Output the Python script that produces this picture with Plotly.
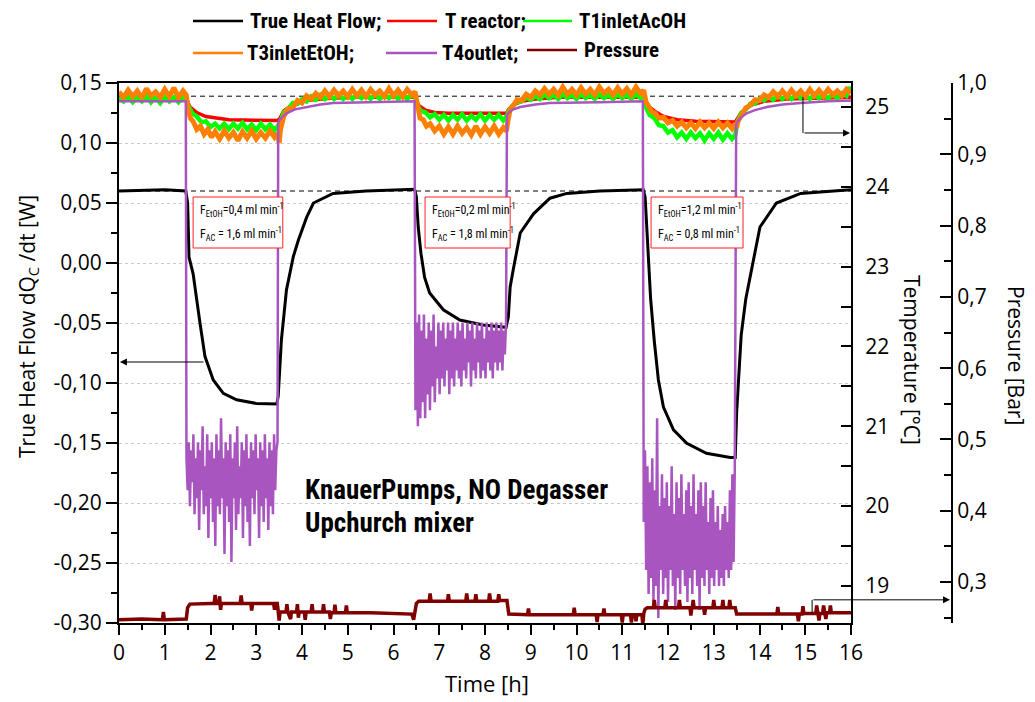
import numpy as np
import plotly.graph_objects as go

# ---------------- data ----------------
time_ticks = list(range(0, 17))
heat_ticks = [-0.30, -0.25, -0.20, -0.15, -0.10, -0.05, 0.00, 0.05, 0.10, 0.15]
heat_tick_labels = ["-0,30", "-0,25", "-0,20", "-0,15", "-0,10", "-0,05", "0,00", "0,05", "0,10", "0,15"]
temp_ticks = [19, 20, 21, 22, 23, 24, 25]
pressure_ticks = [0.3, 0.4, 0.5, 0.6, 0.7, 0.8, 0.9, 1.0]

# True heat flow [W]  (time h, value)
heat_flow = [
    (0, 0.060), (1.0, 0.061), (1.46, 0.060), (1.5, 0.050), (1.53, 0.005), (1.62, -0.009),
    (1.77, -0.050), (1.88, -0.078), (2.06, -0.0975), (2.28, -0.1086), (2.57, -0.114),
    (3.0, -0.117), (3.45, -0.1175), (3.48, -0.111), (3.55, -0.064), (3.66, -0.0225),
    (3.81, 0.0053), (3.92, 0.019), (4.1, 0.038), (4.25, 0.050), (4.68, 0.058), (5.4, 0.060),
    (6.46, 0.0615), (6.5, 0.055), (6.54, 0.030), (6.6, 0.008), (6.68, -0.012), (6.79, -0.025),
    (7.09, -0.039), (7.45, -0.0475), (7.96, -0.0517), (8.46, -0.0536), (8.51, -0.045),
    (8.55, -0.020), (8.62, -0.005), (8.7, 0.012), (8.77, 0.025), (9.06, 0.041), (9.42, 0.054),
    (9.79, 0.058), (10.51, 0.060), (11.46, 0.061), (11.5, 0.055), (11.55, 0.020),
    (11.62, -0.030), (11.7, -0.065), (11.79, -0.0975), (11.9, -0.120), (12.12, -0.139),
    (12.41, -0.1503), (12.84, -0.1586), (13.36, -0.162), (13.47, -0.162), (13.5, -0.125),
    (13.54, -0.0975), (13.6, -0.060), (13.7, -0.030), (13.8, -0.010), (13.87, 0.0025),
    (14.01, 0.030), (14.37, 0.050), (14.9, 0.058), (15.62, 0.060), (16, 0.061),
]

# T reactor [°C]  (time h, value)
t_reactor = [
    (0, 25.11), (1.47, 25.11), (1.55, 25.00), (1.7, 24.93), (1.9, 24.88), (2.1, 24.86),
    (2.4, 24.84), (3.47, 24.83), (3.52, 24.86), (3.6, 24.95), (3.8, 25.03), (4.1, 25.08),
    (4.6, 25.11), (5.2, 25.12), (6.47, 25.12), (6.55, 25.02), (6.7, 24.96), (6.9, 24.93),
    (7.2, 24.92), (8.47, 24.92), (8.52, 24.97), (8.6, 25.02), (8.8, 25.07), (9.1, 25.10),
    (9.6, 25.12), (11.47, 25.12), (11.55, 25.02), (11.7, 24.95), (11.9, 24.88), (12.2, 24.84),
    (12.6, 24.82), (13.47, 24.81), (13.52, 24.85), (13.6, 24.93), (13.8, 25.02), (14.1, 25.07),
    (14.6, 25.10), (15.2, 25.11), (16, 25.12),
]

# T1 inlet AcOH [°C]
t1_inlet_acoh = [
    (0.0, 25.12), (0.1, 25.07), (0.2, 25.13), (0.3, 25.06), (0.4, 25.12), (0.5, 25.07),
    (0.6, 25.14), (0.7, 25.06), (0.8, 25.12), (0.9, 25.05), (1.0, 25.13), (1.1, 25.07),
    (1.2, 25.12), (1.3, 25.06), (1.4, 25.13), (1.47, 25.09),
    (1.53, 25.00), (1.6, 24.92), (1.7, 24.88), (1.8, 24.81), (1.9, 24.82), (2.0, 24.75),
    (2.1, 24.79), (2.2, 24.73), (2.3, 24.79), (2.4, 24.72), (2.5, 24.79), (2.6, 24.73),
    (2.7, 24.80), (2.8, 24.72), (2.9, 24.78), (3.0, 24.71), (3.1, 24.79), (3.2, 24.72),
    (3.3, 24.78), (3.4, 24.71), (3.47, 24.76),
    (3.52, 24.80), (3.6, 24.93), (3.7, 24.98), (3.8, 25.05), (3.9, 25.04), (4.0, 25.10),
    (4.1, 25.07), (4.2, 25.13), (4.3, 25.09), (4.4, 25.15), (4.5, 25.10), (4.6, 25.15),
    (4.7, 25.10), (4.8, 25.16), (4.9, 25.10), (5.0, 25.15), (5.1, 25.10), (5.2, 25.16),
    (5.3, 25.11), (5.4, 25.15), (5.5, 25.10), (5.6, 25.16), (5.7, 25.10), (5.8, 25.15),
    (5.9, 25.11), (6.0, 25.16), (6.1, 25.10), (6.2, 25.15), (6.3, 25.10), (6.4, 25.16),
    (6.47, 25.12),
    (6.53, 25.01), (6.6, 24.95), (6.7, 24.93), (6.8, 24.87), (6.9, 24.91), (7.0, 24.84),
    (7.1, 24.90), (7.2, 24.83), (7.3, 24.90), (7.4, 24.84), (7.5, 24.91), (7.6, 24.83),
    (7.7, 24.89), (7.8, 24.84), (7.9, 24.91), (8.0, 24.83), (8.1, 24.90), (8.2, 24.84),
    (8.3, 24.90), (8.4, 24.83), (8.47, 24.88),
    (8.52, 24.95), (8.6, 25.01), (8.7, 25.06), (8.8, 25.07), (8.9, 25.12), (9.0, 25.09),
    (9.1, 25.14), (9.2, 25.10), (9.3, 25.16), (9.4, 25.11), (9.5, 25.15), (9.6, 25.10),
    (9.7, 25.16), (9.8, 25.11), (9.9, 25.15), (10.0, 25.10), (10.1, 25.16), (10.2, 25.11),
    (10.3, 25.15), (10.4, 25.10), (10.5, 25.16), (10.6, 25.11), (10.7, 25.15), (10.8, 25.10),
    (10.9, 25.16), (11.0, 25.11), (11.1, 25.15), (11.2, 25.10), (11.3, 25.16), (11.4, 25.11),
    (11.47, 25.14),
    (11.53, 24.98), (11.6, 24.90), (11.7, 24.86), (11.8, 24.77), (11.9, 24.76), (12.0, 24.68),
    (12.1, 24.71), (12.2, 24.62), (12.3, 24.68), (12.4, 24.60), (12.5, 24.68), (12.6, 24.61),
    (12.7, 24.67), (12.8, 24.58), (12.9, 24.67), (13.0, 24.60), (13.1, 24.68), (13.2, 24.59),
    (13.3, 24.67), (13.4, 24.60), (13.47, 24.65),
    (13.52, 24.82), (13.6, 24.92), (13.7, 24.97), (13.8, 25.04), (13.9, 25.04), (14.0, 25.10),
    (14.1, 25.08), (14.2, 25.13), (14.3, 25.09), (14.4, 25.15), (14.5, 25.10), (14.6, 25.15),
    (14.7, 25.10), (14.8, 25.16), (14.9, 25.11), (15.0, 25.15), (15.1, 25.10), (15.2, 25.16),
    (15.3, 25.11), (15.4, 25.15), (15.5, 25.11), (15.6, 25.16), (15.7, 25.11), (15.8, 25.17),
    (15.9, 25.14), (15.95, 25.25), (16.0, 25.18),
]

# T3 inlet EtOH [°C]
t3_inlet_etoh = [
    (0.0, 25.19), (0.1, 25.12), (0.2, 25.21), (0.3, 25.13), (0.4, 25.20), (0.5, 25.11),
    (0.6, 25.23), (0.7, 25.14), (0.8, 25.19), (0.9, 25.12), (1.0, 25.22), (1.1, 25.13),
    (1.2, 25.24), (1.3, 25.12), (1.4, 25.20), (1.47, 25.15),
    (1.52, 24.95), (1.56, 24.86), (1.62, 24.82), (1.7, 24.72), (1.78, 24.76), (1.86, 24.66),
    (1.94, 24.72), (2.02, 24.62), (2.1, 24.69), (2.2, 24.60), (2.3, 24.70), (2.4, 24.61),
    (2.5, 24.68), (2.6, 24.58), (2.7, 24.69), (2.8, 24.61), (2.9, 24.70), (3.0, 24.60),
    (3.1, 24.68), (3.2, 24.61), (3.3, 24.70), (3.4, 24.62), (3.47, 24.67),
    (3.5, 24.55), (3.53, 24.72), (3.6, 24.88), (3.7, 24.98), (3.8, 24.99), (3.9, 25.08),
    (4.0, 25.05), (4.1, 25.14), (4.2, 25.10), (4.3, 25.17), (4.4, 25.12), (4.5, 25.20),
    (4.6, 25.13), (4.7, 25.21), (4.8, 25.14), (4.9, 25.20), (5.0, 25.13), (5.1, 25.22),
    (5.2, 25.14), (5.3, 25.21), (5.4, 25.13), (5.5, 25.22), (5.6, 25.15), (5.7, 25.20),
    (5.8, 25.13), (5.9, 25.23), (6.0, 25.14), (6.1, 25.21), (6.2, 25.13), (6.3, 25.22),
    (6.4, 25.15), (6.47, 25.19),
    (6.52, 25.00), (6.58, 24.86), (6.65, 24.84), (6.72, 24.76), (6.8, 24.79), (6.9, 24.70),
    (7.0, 24.76), (7.1, 24.66), (7.2, 24.75), (7.3, 24.66), (7.4, 24.76), (7.5, 24.67),
    (7.6, 24.74), (7.7, 24.65), (7.8, 24.76), (7.9, 24.66), (8.0, 24.75), (8.1, 24.67),
    (8.2, 24.76), (8.3, 24.66), (8.4, 24.74), (8.47, 24.70),
    (8.5, 24.82), (8.55, 24.97), (8.6, 25.00), (8.7, 25.09), (8.8, 25.08), (8.9, 25.16),
    (9.0, 25.12), (9.1, 25.20), (9.2, 25.15), (9.3, 25.23), (9.4, 25.16), (9.5, 25.22),
    (9.6, 25.15), (9.7, 25.25), (9.8, 25.16), (9.9, 25.22), (10.0, 25.15), (10.1, 25.24),
    (10.2, 25.16), (10.3, 25.22), (10.4, 25.15), (10.5, 25.25), (10.6, 25.17), (10.7, 25.22),
    (10.8, 25.15), (10.9, 25.24), (11.0, 25.16), (11.1, 25.23), (11.2, 25.15), (11.3, 25.25),
    (11.4, 25.17), (11.47, 25.21),
    (11.52, 25.06), (11.58, 24.99), (11.65, 24.94), (11.72, 24.92), (11.8, 24.86), (11.9, 24.87),
    (12.0, 24.80), (12.1, 24.83), (12.2, 24.76), (12.3, 24.81), (12.4, 24.74), (12.5, 24.80),
    (12.6, 24.73), (12.7, 24.81), (12.8, 24.74), (12.9, 24.80), (13.0, 24.73), (13.1, 24.81),
    (13.2, 24.74), (13.3, 24.80), (13.4, 24.73), (13.47, 24.79),
    (13.5, 24.74), (13.53, 24.82), (13.6, 24.90), (13.7, 24.99), (13.8, 25.02), (13.9, 25.09),
    (14.0, 25.08), (14.1, 25.15), (14.2, 25.12), (14.3, 25.19), (14.4, 25.13), (14.5, 25.20),
    (14.6, 25.13), (14.7, 25.21), (14.8, 25.14), (14.9, 25.20), (15.0, 25.13), (15.1, 25.22),
    (15.2, 25.14), (15.3, 25.21), (15.4, 25.14), (15.5, 25.22), (15.6, 25.15), (15.7, 25.20),
    (15.8, 25.14), (15.9, 25.22), (16.0, 25.17),
]

# T4 outlet: smooth parts (time, value) and noisy values read across each dosing window
t4_before = [(0, 25.07), (1.46, 25.07)]
t4_noise_1 = [20.6, 20.2, 20.8, 20.0, 20.7, 20.3, 20.9, 19.9, 20.6, 20.1, 20.8, 19.7, 20.7,
              20.2, 21.0, 19.9, 20.5, 20.0, 20.9, 19.6, 20.7, 20.1, 20.8, 19.8, 20.6, 19.5,
              20.9, 20.0, 20.7, 19.9, 21.1, 20.1, 20.6, 19.4, 20.8, 20.0, 20.7, 19.8, 20.9,
              19.3, 20.6, 20.1, 20.8, 19.7, 21.0, 19.9, 20.5, 20.1, 20.8, 19.6, 20.7, 20.0,
              20.9, 19.8, 20.6, 19.5, 20.8, 20.1, 20.7, 19.9, 20.9, 20.2, 20.6, 19.6, 20.8,
              20.0, 20.7, 19.8, 20.9, 20.1, 20.6, 19.7, 20.8, 20.0, 20.7, 19.9, 20.9, 20.2,
              20.7, 20.8]
t4_recover_1 = [(3.48, 24.80), (3.5, 24.83), (3.58, 24.88), (3.66, 24.92), (3.85, 24.97),
                (4.1, 25.00), (4.4, 25.03), (4.68, 25.05), (5.5, 25.06), (6.46, 25.07)]
t4_noise_2 = [21.2, 22.3, 21.0, 22.4, 21.1, 22.2, 21.3, 22.4, 21.1, 22.1, 21.4, 22.3, 21.2,
              22.2, 21.5, 22.4, 21.3, 22.0, 21.6, 22.3, 21.4, 22.2, 21.6, 22.3, 21.5, 22.1,
              21.7, 22.3, 21.4, 22.2, 21.6, 22.3, 21.5, 22.1, 21.7, 22.3, 21.6, 22.2, 21.5,
              22.3, 21.7, 22.1, 21.6, 22.3, 21.8, 22.2, 21.5, 22.3, 21.7, 22.1, 21.6, 22.3,
              21.8, 22.2, 21.6, 22.3, 21.7, 22.1, 21.6, 22.3, 21.8, 22.2, 21.7, 22.3, 21.6,
              22.2, 21.8, 22.3, 21.7, 22.2, 21.8, 22.3, 21.7, 22.2, 21.9, 22.3]
t4_recover_2 = [(8.48, 24.90), (8.52, 24.93), (8.62, 24.97), (8.77, 25.00), (9.1, 25.03),
                (9.42, 25.05), (10.5, 25.06), (11.45, 25.07)]
t4_noise_3 = [19.8, 20.7, 19.2, 20.5, 18.9, 20.3, 19.1, 20.6, 18.8, 20.2, 19.0, 21.1, 18.6,
              20.0, 19.2, 20.4, 18.9, 20.1, 19.1, 20.3, 18.8, 20.0, 19.2, 20.5, 19.0, 19.9,
              18.7, 20.3, 19.1, 20.1, 18.9, 20.4, 19.2, 19.9, 19.0, 20.2, 18.8, 20.3, 19.1,
              20.0, 18.9, 20.4, 19.2, 19.9, 19.0, 20.2, 18.7, 20.3, 19.1, 20.0, 19.0, 20.3,
              19.2, 19.8, 18.9, 20.1, 19.1, 20.2, 19.0, 19.8, 19.2, 20.0, 19.0, 19.7, 19.1,
              19.9, 19.0, 20.0, 19.2, 19.8, 19.1, 20.2, 19.2, 20.4, 19.3, 20.5]
t4_recover_3 = [(13.49, 24.78), (13.52, 24.82), (13.6, 24.87), (13.72, 24.92), (13.9, 24.96),
                (14.16, 25.00), (14.5, 25.03), (14.9, 25.05), (15.5, 25.07), (16, 25.08)]
dosing_windows = [(1.475, 3.465), (6.48, 8.46), (11.47, 13.46)]

# Pressure [bar]  (time h, value)
pressure = [
    (0, 0.247), (0.5, 0.248), (0.95, 0.247), (0.97, 0.258), (0.99, 0.247), (1.47, 0.248),
    (1.5, 0.264), (1.55, 0.269), (2.0, 0.270), (2.08, 0.270), (2.1, 0.282), (2.12, 0.270),
    (2.18, 0.270), (2.2, 0.280), (2.22, 0.261), (2.24, 0.270), (2.65, 0.270), (2.67, 0.281),
    (2.69, 0.270), (2.88, 0.270), (2.9, 0.260), (2.92, 0.270), (3.38, 0.270), (3.4, 0.261),
    (3.42, 0.270), (3.46, 0.270), (3.48, 0.259), (3.5, 0.246), (3.52, 0.258), (3.65, 0.258),
    (3.67, 0.269), (3.69, 0.258), (3.75, 0.248), (3.77, 0.258), (3.88, 0.258), (3.9, 0.269),
    (3.92, 0.250), (3.94, 0.258), (4.05, 0.258), (4.07, 0.247), (4.09, 0.258), (4.2, 0.258),
    (4.22, 0.269), (4.24, 0.258), (4.45, 0.258), (4.47, 0.269), (4.49, 0.258), (4.6, 0.258),
    (4.62, 0.248), (4.64, 0.257), (4.7, 0.257), (4.72, 0.268), (4.74, 0.257), (4.95, 0.257),
    (4.97, 0.267), (4.99, 0.257), (5.5, 0.257), (6.0, 0.256), (6.4, 0.255), (6.44, 0.247),
    (6.47, 0.256), (6.5, 0.270), (6.55, 0.273), (6.78, 0.273), (6.8, 0.284), (6.82, 0.273),
    (7.18, 0.273), (7.2, 0.283), (7.22, 0.273), (7.58, 0.273), (7.6, 0.284), (7.62, 0.273),
    (7.78, 0.273), (7.8, 0.283), (7.82, 0.273), (8.08, 0.273), (8.1, 0.284), (8.12, 0.273),
    (8.28, 0.273), (8.3, 0.283), (8.32, 0.274), (8.48, 0.274), (8.52, 0.255), (8.93, 0.254),
    (8.95, 0.263), (8.97, 0.254), (9.93, 0.254), (9.95, 0.264), (9.97, 0.254), (10.43, 0.254),
    (10.45, 0.244), (10.47, 0.254), (10.58, 0.254), (10.6, 0.263), (10.62, 0.254),
    (10.98, 0.254), (11.0, 0.243), (11.02, 0.254), (11.18, 0.254), (11.2, 0.243),
    (11.22, 0.254), (11.28, 0.254), (11.3, 0.245), (11.32, 0.254), (11.43, 0.254),
    (11.45, 0.240), (11.47, 0.256), (11.5, 0.262), (11.55, 0.264), (11.68, 0.264),
    (11.7, 0.275), (11.72, 0.264), (11.93, 0.264), (11.95, 0.275), (11.97, 0.264),
    (12.23, 0.264), (12.25, 0.275), (12.27, 0.264), (12.48, 0.264), (12.5, 0.253),
    (12.52, 0.264), (12.53, 0.264), (12.55, 0.275), (12.57, 0.264), (12.78, 0.264),
    (12.8, 0.254), (12.82, 0.264), (12.98, 0.264), (13.0, 0.275), (13.02, 0.264),
    (13.18, 0.264), (13.2, 0.275), (13.22, 0.264), (13.33, 0.264), (13.35, 0.275),
    (13.37, 0.264), (13.47, 0.264), (13.5, 0.255), (14.38, 0.255), (14.4, 0.265),
    (14.42, 0.255), (14.83, 0.255), (14.85, 0.245), (14.87, 0.255), (14.93, 0.255),
    (14.95, 0.266), (14.97, 0.256), (15.23, 0.256), (15.25, 0.267), (15.27, 0.256),
    (15.28, 0.256), (15.3, 0.246), (15.32, 0.256), (15.38, 0.256), (15.4, 0.267),
    (15.42, 0.256), (15.45, 0.248), (15.47, 0.257), (15.53, 0.257), (15.55, 0.267),
    (15.57, 0.257), (16, 0.257),
]

dashed_levels = [0.139, 0.060]
annotation_boxes = [
    (1.62, 3.58, "0,4", "1,6"),
    (6.69, 8.55, "0,2", "1,8"),
    (11.63, 13.64, "1,2", "0,8"),
]

# ---------------- assemble T4 outlet ----------------
t4_x, t4_y = [], []
smooth_parts = [t4_before, t4_recover_1, t4_recover_2, t4_recover_3]
noise_parts = [t4_noise_1, t4_noise_2, t4_noise_3]
for i in range(4):
    for tt, vv in smooth_parts[i]:
        t4_x.append(tt)
        t4_y.append(vv)
    if i < 3:
        a, b = dosing_windows[i]
        t4_x.extend(np.linspace(a, b, len(noise_parts[i])).tolist())
        t4_y.extend(noise_parts[i])

# ---------------- geometry helpers ----------------
W, H = 1035, 702
ML, MR, MT, MB = 119, 60, 83, 79
PW = W - ML - MR
PH = H - MT - MB


def px(xp):
    return (xp - ML) / PW


def py(yp):
    return (H - MB - yp) / PH


def xs(points):
    return [p[0] for p in points]


def ys(points):
    return [p[1] for p in points]


FONT = "Open Sans, Arial, sans-serif"
NARROW = "Liberation Sans Narrow, Arial Narrow, Roboto Condensed, sans-serif"

C_BLACK = "#000000"
C_RED = "#ff0000"
C_GREEN = "#00ff00"
C_ORANGE = "#ff8000"
C_PURPLE = "#a855c0"
C_PRESS = "#800000"

fig = go.Figure()
fig.add_trace(go.Scatter(x=xs(heat_flow), y=ys(heat_flow), mode="lines",
                         line=dict(color=C_BLACK, width=3), name="True Heat Flow;", yaxis="y"))
fig.add_trace(go.Scatter(x=xs(t_reactor), y=ys(t_reactor), mode="lines",
                         line=dict(color=C_RED, width=3.5), name="T reactor;", yaxis="y2"))
fig.add_trace(go.Scatter(x=xs(t1_inlet_acoh), y=ys(t1_inlet_acoh), mode="lines",
                         line=dict(color=C_GREEN, width=4.5), name="T1inletAcOH", yaxis="y2"))
fig.add_trace(go.Scatter(x=xs(t3_inlet_etoh), y=ys(t3_inlet_etoh), mode="lines",
                         line=dict(color=C_ORANGE, width=5), name="T3inletEtOH;", yaxis="y2"))
fig.add_trace(go.Scatter(x=t4_x, y=t4_y, mode="lines",
                         line=dict(color=C_PURPLE, width=2.5), name="T4outlet;", yaxis="y2"))
fig.add_trace(go.Scatter(x=xs(pressure), y=ys(pressure), mode="lines",
                         line=dict(color=C_PRESS, width=3.5), name="Pressure", yaxis="y3"))

shapes = []
annotations = []

# dashed reference lines
for lvl in dashed_levels:
    shapes.append(dict(type="line", xref="x", yref="y", x0=0, x1=16, y0=lvl, y1=lvl,
                       line=dict(color="black", width=1, dash="5px,4px"), layer="below"))

# flow-rate boxes
for x0, x1, fe, fa in annotation_boxes:
    shapes.append(dict(type="rect", xref="x", yref="y", x0=x0, x1=x1, y0=0.0125, y1=0.055,
                       line=dict(color="#ff2020", width=1), fillcolor="white", layer="above"))
    annotations.append(dict(xref="x", yref="y", x=x0 + 0.1, y=0.0445, xanchor="left",
                            yanchor="middle", showarrow=False,
                            text=f"F<sub>EtOH</sub>={fe} ml min<sup>-1</sup>",
                            font=dict(family=NARROW, size=12, color="black")))
    annotations.append(dict(xref="x", yref="y", x=x0 + 0.1, y=0.0245, xanchor="left",
                            yanchor="middle", showarrow=False,
                            text=f"F<sub>AC</sub> = {fa} ml min<sup>-1</sup>",
                            font=dict(family=NARROW, size=12, color="black")))

# arrows
annotations.append(dict(xref="x", yref="y", x=0.02, y=-0.0825, axref="x", ayref="y",
                        ax=1.88, ay=-0.0825, showarrow=True, arrowhead=2, arrowsize=1.4,
                        arrowwidth=1, arrowcolor="black", text=""))
shapes.append(dict(type="line", xref="x", yref="y2", x0=14.95, x1=14.95, y0=25.125, y1=24.674,
                   line=dict(color="black", width=1)))
annotations.append(dict(xref="x", yref="y2", x=15.98, y=24.674, axref="x", ayref="y2",
                        ax=14.95, ay=24.674, showarrow=True, arrowhead=2, arrowsize=1.4,
                        arrowwidth=1, arrowcolor="black", text=""))
shapes.append(dict(type="line", xref="x", yref="y3", x0=15.15, x1=15.15, y0=0.257, y1=0.275,
                   line=dict(color="black", width=1)))
annotations.append(dict(xref="paper", yref="y3", x=px(950), y=0.275, ax=-(950 - 812), ay=0,
                        showarrow=True, arrowhead=2, arrowsize=1.4, arrowwidth=1,
                        arrowcolor="black", text=""))

# legend (drawn manually to match layout)
legend_items = [
    ("True Heat Flow;", C_BLACK, 193, 243, 248, 21),
    ("T reactor;", C_RED, 387, 437, 443, 21),
    ("T1inletAcOH", C_GREEN, 523, 572, 577, 21),
    ("T3inletEtOH;", C_ORANGE, 193, 243, 245, 53),
    ("T4outlet;", C_PURPLE, 386, 437, 440, 53),
    ("Pressure", C_PRESS, 527, 577, 582, 50),
]
for label, col, lx0, lx1, tx, ly in legend_items:
    shapes.append(dict(type="line", xref="paper", yref="paper", x0=px(lx0), x1=px(lx1),
                       y0=py(ly), y1=py(ly), line=dict(color=col, width=2.5)))
    annotations.append(dict(xref="paper", yref="paper", x=px(tx), y=py(ly), xanchor="left",
                            yanchor="middle", showarrow=False, text=f"<b>{label}</b>",
                            font=dict(family=NARROW, size=21, color="black")))

# free text
annotations.append(dict(xref="paper", yref="paper", x=px(303), y=py(490), xanchor="left",
                        yanchor="middle", showarrow=False, text="<b>KnauerPumps, NO Degasser</b>",
                        font=dict(family=NARROW, size=27, color="black")))
annotations.append(dict(xref="paper", yref="paper", x=px(303), y=py(523), xanchor="left",
                        yanchor="middle", showarrow=False, text="<b>Upchurch mixer</b>",
                        font=dict(family=NARROW, size=27, color="black")))

# axis titles
annotations.append(dict(xref="paper", yref="paper", x=px(28), y=py(327), textangle=-90,
                        xanchor="center", yanchor="middle", showarrow=False,
                        text="True Heat Flow dQ<sub>C</sub> /dt [W]",
                        font=dict(family=FONT, size=21, color="black")))
annotations.append(dict(xref="paper", yref="paper", x=px(912), y=py(360), textangle=90,
                        xanchor="center", yanchor="middle", showarrow=False,
                        text="Temperature [°C]",
                        font=dict(family=FONT, size=21, color="black")))
annotations.append(dict(xref="paper", yref="paper", x=px(1016), y=py(355), textangle=90,
                        xanchor="center", yanchor="middle", showarrow=False,
                        text="Pressure [Bar]",
                        font=dict(family=FONT, size=21, color="black")))
annotations.append(dict(xref="paper", yref="paper", x=px(487), y=py(683),
                        xanchor="center", yanchor="middle", showarrow=False, text="Time [h]",
                        font=dict(family=FONT, size=22, color="black")))

tickfont = dict(family=FONT, size=21, color="black")

fig.update_layout(
    width=W, height=H,
    margin=dict(l=ML, r=MR, t=MT, b=MB, pad=0),
    paper_bgcolor="white", plot_bgcolor="white",
    showlegend=False,
    separators=",.",
    font=dict(family=FONT, color="black"),
    shapes=shapes,
    annotations=annotations,
    xaxis=dict(domain=[0, px(851)], range=[0, 16], tickvals=time_ticks, ticks="outside",
               ticklen=10, tickwidth=1.5, tickcolor="black",
               minor=dict(dtick=0.5, ticks="outside", ticklen=5, tickwidth=1.5,
                          tickcolor="black", showgrid=False),
               showline=True, linewidth=2, linecolor="black", mirror=True,
               showgrid=False, zeroline=False, tickfont=tickfont),
    yaxis=dict(range=[-0.30, 0.15], tickvals=heat_ticks, ticktext=heat_tick_labels,
               ticks="outside", ticklen=11, tickwidth=1.5, tickcolor="black",
               minor=dict(dtick=0.025, ticks="outside", ticklen=6, tickwidth=1.5,
                          tickcolor="black", showgrid=False),
               showline=True, linewidth=2, linecolor="black",
               showgrid=True, gridcolor="#c8c8c8", griddash="dot", gridwidth=1,
               zeroline=False, tickfont=tickfont),
    yaxis2=dict(overlaying="y", side="right", anchor="x", range=[18.536, 25.30],
                tickvals=temp_ticks, ticks="inside", ticklen=10, tickwidth=1.5,
                tickcolor="black",
                minor=dict(dtick=0.5, ticks="inside", ticklen=10, tickwidth=1.5,
                           tickcolor="black", showgrid=False),
                showline=True, linewidth=2, linecolor="black", showgrid=False,
                zeroline=False, tickfont=tickfont, ticklabelstandoff=8),
    yaxis3=dict(overlaying="y", side="right", anchor="free", position=px(952),
                range=[0.2425, 1.0], tickvals=pressure_ticks, tickformat=".1f",
                ticks="inside", ticklen=11, tickwidth=1.5, tickcolor="black",
                minor=dict(dtick=0.05, ticks="inside", ticklen=7, tickwidth=1.5,
                           tickcolor="black", showgrid=False),
                showline=True, linewidth=2, linecolor="black", showgrid=False,
                zeroline=False, tickfont=tickfont),
)

fig.write_html("out.html")
